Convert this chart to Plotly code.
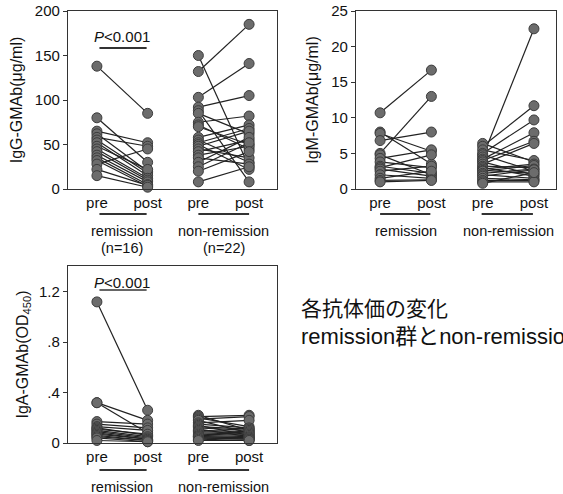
import plotly.graph_objects as go

W, H = 563, 494

# ---------------- data ----------------
group_ticks = ["pre", "post", "pre", "post"]

igg_rem_pre  = [138, 80, 65, 62, 58, 55, 52, 48, 45, 42, 38, 35, 32, 28, 22, 15]
igg_rem_post = [85, 30, 52, 20, 48, 18, 15, 22, 12, 10, 8, 5, 3, 45, 4, 2]
igg_non_pre  = [150, 132, 103, 92, 88, 85, 75, 72, 70, 58, 55, 52, 50, 48, 45, 42, 38, 35, 30, 25, 20, 8]
igg_non_post = [25, 185, 141, 105, 8, 62, 82, 45, 50, 72, 30, 68, 22, 65, 35, 55, 48, 28, 58, 52, 42, 25]

igm_rem_pre  = [10.7, 8.0, 7.8, 6.8, 5.0, 4.8, 4.3, 3.8, 3.2, 3.0, 2.8, 2.5, 2.0, 1.5, 1.2, 1.0]
igm_rem_post = [16.7, 3.5, 5.3, 8.0, 13.0, 2.0, 5.5, 3.0, 2.2, 4.8, 1.8, 3.2, 1.5, 2.5, 1.3, 1.2]
igm_non_pre  = [6.4, 6.0, 5.5, 5.0, 4.8, 4.5, 4.2, 4.0, 3.8, 3.5, 3.2, 3.0, 2.8, 2.6, 2.5, 2.2, 2.0, 1.8, 1.5, 1.2, 1.0, 0.8]
igm_non_post = [3.8, 11.7, 4.0, 9.7, 2.5, 22.5, 7.9, 6.7, 2.0, 6.4, 3.0, 1.8, 3.5, 2.2, 3.3, 2.8, 1.5, 2.7, 1.3, 1.2, 1.0, 2.3]

iga_rem_pre  = [1.12, 0.32, 0.32, 0.17, 0.15, 0.13, 0.12, 0.11, 0.10, 0.09, 0.08, 0.07, 0.06, 0.05, 0.04, 0.02]
iga_rem_post = [0.26, 0.18, 0.08, 0.15, 0.12, 0.10, 0.06, 0.07, 0.05, 0.04, 0.03, 0.03, 0.02, 0.02, 0.01, 0.01]
iga_non_pre  = [0.22, 0.21, 0.20, 0.19, 0.18, 0.16, 0.15, 0.14, 0.13, 0.12, 0.11, 0.10, 0.09, 0.08, 0.07, 0.06, 0.05, 0.05, 0.04, 0.04, 0.03, 0.02]
iga_non_post = [0.10, 0.22, 0.13, 0.21, 0.08, 0.18, 0.12, 0.06, 0.11, 0.10, 0.05, 0.09, 0.08, 0.07, 0.06, 0.05, 0.04, 0.04, 0.03, 0.03, 0.02, 0.02]

igg_ticks = [0, 50, 100, 150, 200]
igm_ticks = [0, 5, 10, 15, 20, 25]
iga_ticks = [0, 0.4, 0.8, 1.2]
iga_ticktext = ["0", ".4", ".8", "1.2"]

FONT = "Liberation Sans, Arial, sans-serif"
JP = "Liberation Sans, Noto Sans CJK JP, sans-serif"


def px_x(p):
    return p / W


def px_y(p):
    return 1 - p / H


def pairs(pre, post, x0):
    xs, ys = [], []
    for a, b in zip(pre, post):
        xs += [x0, x0 + 1, None]
        ys += [a, b, None]
    return xs, ys


fig = go.Figure()

panels = [
    ("x", "y", igg_rem_pre, igg_rem_post, igg_non_pre, igg_non_post),
    ("x2", "y2", igm_rem_pre, igm_rem_post, igm_non_pre, igm_non_post),
    ("x3", "y3", iga_rem_pre, iga_rem_post, iga_non_pre, iga_non_post),
]
for xa, ya, rp, rq, npre, npost in panels:
    for pre, post, x0 in ((rp, rq, 1), (npre, npost, 3)):
        xs, ys = pairs(pre, post, x0)
        fig.add_trace(go.Scatter(
            x=xs, y=ys, xaxis=xa, yaxis=ya, mode="lines+markers",
            line=dict(color="#222222", width=1.2),
            marker=dict(size=10, color="#6c6c6c", line=dict(color="#3c3c3c", width=1)),
            connectgaps=False, showlegend=False, hoverinfo="skip", cliponaxis=False))

axis_common = dict(showline=True, mirror=True, linecolor="#333", linewidth=1.3,
                   showgrid=False, zeroline=False, automargin=False)
xcommon = dict(axis_common, tickvals=[1, 2, 3, 4], ticktext=group_ticks, ticks="",
               tickfont=dict(family=FONT, size=15, color="#111"))
ycommon = dict(axis_common, ticks="outside", ticklen=4, tickcolor="#333",
               tickfont=dict(family=FONT, size=15, color="#111"))

fig.update_layout(
    width=W, height=H, margin=dict(l=0, r=0, t=0, b=0, autoexpand=False),
    paper_bgcolor="white", plot_bgcolor="white",
    font=dict(family=FONT, color="#111"),
    xaxis=dict(xcommon, domain=[px_x(68), px_x(277)], range=[0.43, 4.55], anchor="y"),
    yaxis=dict(ycommon, domain=[px_y(189), px_y(11)], range=[0, 200], tickvals=igg_ticks,
               anchor="x", title=dict(text="IgG-GMAb(μg/ml)", font=dict(family=FONT, size=16), standoff=8)),
    xaxis2=dict(xcommon, domain=[px_x(356), px_x(556)], range=[0.53, 4.43], anchor="y2"),
    yaxis2=dict(ycommon, domain=[px_y(189), px_y(11)], range=[0, 25], tickvals=igm_ticks,
                anchor="x2", title=dict(text="IgM-GMAb(μg/ml)", font=dict(family=FONT, size=16), standoff=8)),
    xaxis3=dict(xcommon, domain=[px_x(68), px_x(277)], range=[0.43, 4.55], anchor="y3"),
    yaxis3=dict(ycommon, domain=[px_y(443), px_y(266)], range=[0, 1.405], tickvals=iga_ticks,
                ticktext=iga_ticktext, anchor="x3",
                title=dict(text="IgA-GMAb(OD<sub>450</sub>)", font=dict(family=FONT, size=16), standoff=6)),
)

ann = []
shapes = []


def label(xref, x, ypx, text, size=14.5):
    ann.append(dict(xref=xref, yref="paper", x=x, y=px_y(ypx), text=text, showarrow=False,
                    xanchor="center", yanchor="middle", font=dict(family=FONT, size=size, color="#111")))


def uline(xref, x0, x1, ypx, w=2):
    shapes.append(dict(type="line", xref=xref, yref="paper", x0=x0, x1=x1,
                       y0=px_y(ypx), y1=px_y(ypx), line=dict(color="#333", width=w)))


# panel 1
uline("x", 1.05, 1.98, 214)
uline("x", 3.0, 4.0, 214)
label("x", 1.5, 231, "remission")
label("x", 3.5, 231, "non-remission")
label("x", 1.5, 248, "(n=16)")
label("x", 3.5, 248, "(n=22)")
label("x", 1.5, 36, "<i>P</i>&lt;0.001", 15)
uline("x", 1.05, 1.98, 48)
# panel 2
uline("x2", 1.0, 1.98, 214)
uline("x2", 2.98, 3.98, 214)
label("x2", 1.5, 231, "remission")
label("x2", 3.5, 231, "non-remission")
# panel 3
uline("x3", 1.05, 1.98, 470)
uline("x3", 3.0, 4.0, 470)
label("x3", 1.5, 487, "remission")
label("x3", 3.5, 487, "non-remission")
label("x3", 1.5, 282, "<i>P</i>&lt;0.001", 15)
uline("x3", 1.05, 1.98, 290, 1.5)

# Japanese caption
ann.append(dict(xref="paper", yref="paper", x=px_x(299), y=px_y(308), text="各抗体価の変化",
                showarrow=False, xanchor="left", yanchor="middle",
                font=dict(family=JP, size=21, color="#111")))
ann.append(dict(xref="paper", yref="paper", x=px_x(299), y=px_y(336), text="remission群とnon-remission",
                showarrow=False, xanchor="left", yanchor="middle",
                font=dict(family=JP, size=22, color="#111")))

fig.update_layout(annotations=ann, shapes=shapes)
fig.write_html("out.html", config={"displayModeBar": False},
               post_script="document.body.style.margin='0';document.body.style.overflow='hidden';")
